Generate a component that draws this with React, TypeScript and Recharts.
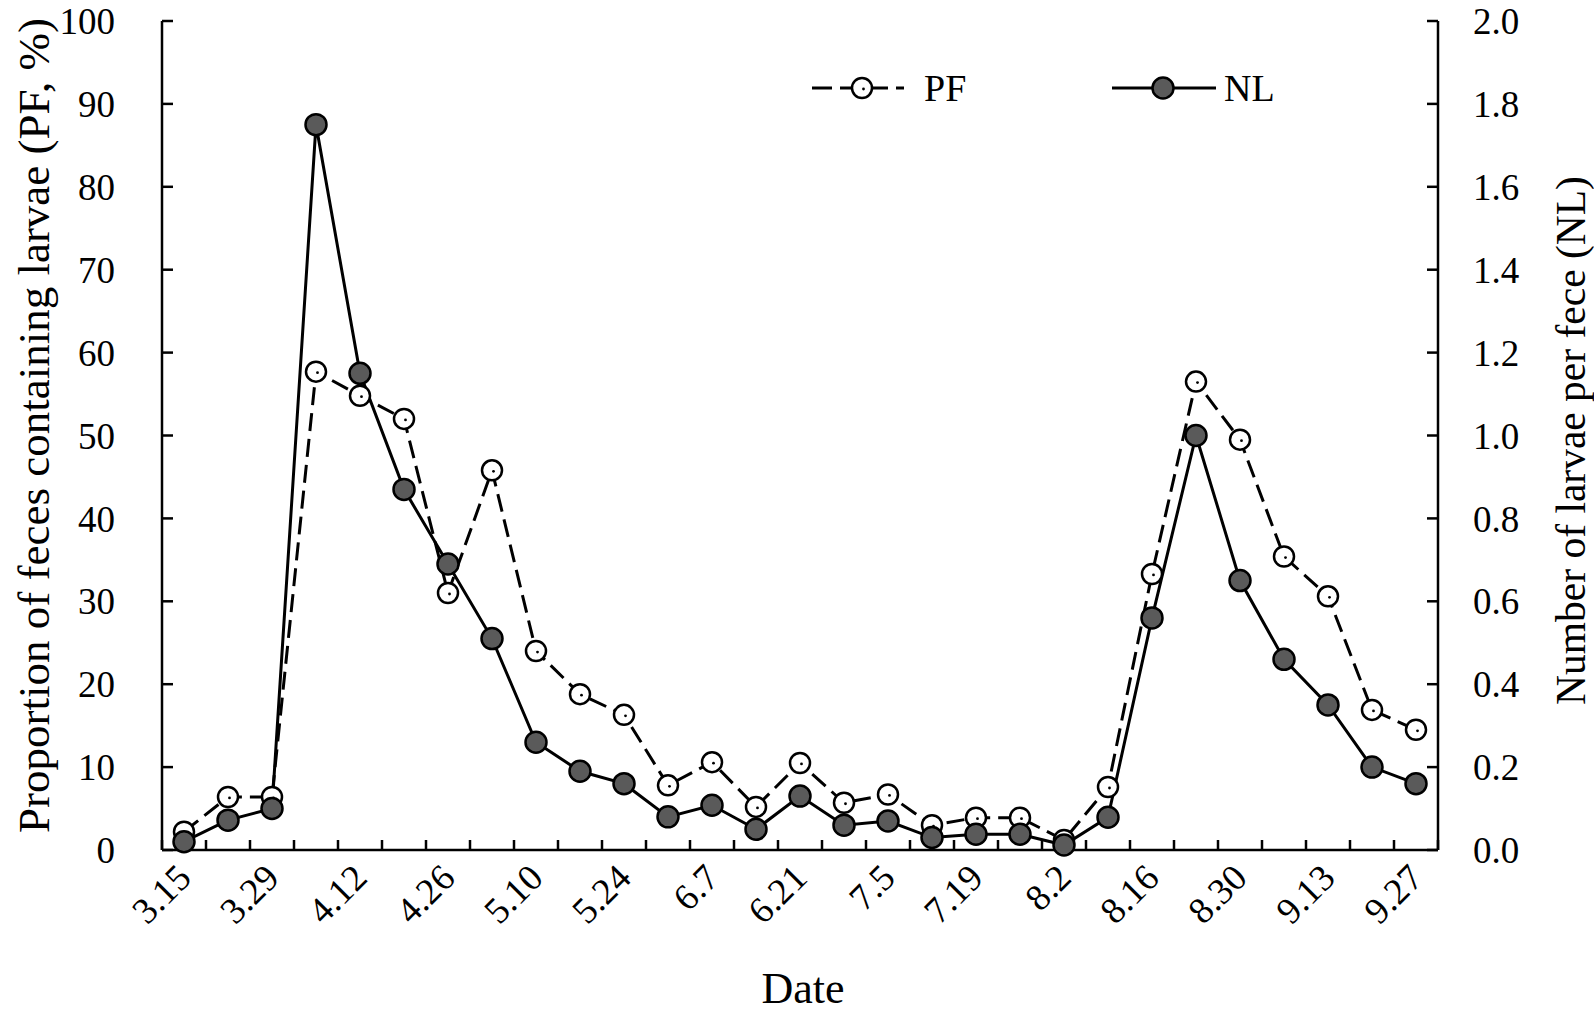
import React from 'react'
import { LineChart, Line, XAxis, YAxis, Legend } from 'recharts'

// sampling dates (weekly) and the two series
const dates = [
  '3.15', '3.22', '3.29', '4.5', '4.12', '4.19', '4.26', '5.3', '5.10', '5.17',
  '5.24', '5.31', '6.7', '6.14', '6.21', '6.28', '7.5', '7.12', '7.19', '7.26',
  '8.2', '8.9', '8.16', '8.23', '8.30', '9.6', '9.13', '9.20', '9.27',
]
const pfValues = [
  2.2, 6.4, 6.4, 57.7, 54.8, 52.0, 31.0, 45.8, 24.0, 18.8,
  16.3, 7.8, 10.6, 5.2, 10.5, 5.7, 6.7, 3.0, 3.9, 3.9,
  1.2, 7.6, 33.3, 56.5, 49.5, 35.4, 30.6, 16.9, 14.5,
]
const nlValues = [
  0.02, 0.072, 0.10, 1.75, 1.15, 0.87, 0.69, 0.51, 0.26, 0.19,
  0.16, 0.08, 0.108, 0.05, 0.13, 0.06, 0.07, 0.03, 0.038, 0.038,
  0.012, 0.079, 0.56, 1.00, 0.65, 0.46, 0.35, 0.20, 0.16,
]
const pfTicks = [0, 10, 20, 30, 40, 50, 60, 70, 80, 90, 100]
const nlTicks = [0, 0.2, 0.4, 0.6, 0.8, 1.0, 1.2, 1.4, 1.6, 1.8, 2.0]
// tick marks sit on the category boundaries (Excel style)
const boundaryTicks = dates.map((_, i) => i).concat([dates.length])

const data = dates.map((d, i) => ({ x: i + 0.5, date: d, pf: pfValues[i], nl: nlValues[i] }))

const FONT = '"Liberation Serif", "Times New Roman", serif'
const W = 1594
const H = 1020
const LEFT_W = 162
const RIGHT_W = 156
const TOP = 21
const X_H = 170
const PLOT_W = W - LEFT_W - RIGHT_W

const DateTick = (props: any) => {
  const { x, y, payload } = props
  const i = payload.value
  if (i % 2 !== 0 || i >= dates.length) return <g />
  const band = PLOT_W / dates.length
  const ax = x + band / 2 + 9
  const ay = y + 40
  return (
    <text x={ax} y={ay} transform={`rotate(-45, ${ax}, ${ay})`} textAnchor="end"
      fontSize={37} fontFamily={FONT} fill="#000">{dates[i]}</text>
  )
}

const PfDot = (p: any) => {
  const { cx, cy, index } = p
  if (cx == null || cy == null) return <g key={`pf-${index}`} />
  return (
    <g key={`pf-${index}`}>
      <circle cx={cx} cy={cy} r={10} fill="#fff" stroke="#000" strokeWidth={2.5} />
      <circle cx={cx + 1.5} cy={cy + 1} r={1.4} fill="#000" />
    </g>
  )
}

const NlDot = (p: any) => {
  const { cx, cy, index } = p
  if (cx == null || cy == null) return <g key={`nl-${index}`} />
  return <circle key={`nl-${index}`} cx={cx} cy={cy} r={10.5} fill="#5a5a5a" stroke="#000" strokeWidth={2.5} />
}

const leftTitle = (p: any) => {
  const vb = p.viewBox || { x: 0, y: TOP, width: LEFT_W, height: H - TOP - X_H }
  const cx = vb.x + 34
  const cy = vb.y + vb.height / 2 - 10
  return (
    <text x={cx} y={cy} transform={`rotate(-90, ${cx}, ${cy})`} textAnchor="middle" dominantBaseline="central"
      fontSize={45} fontFamily={FONT} fill="#000">Proportion of feces containing larvae (PF, %)</text>
  )
}

const rightTitle = (p: any) => {
  const vb = p.viewBox || { x: W - RIGHT_W, y: TOP, width: RIGHT_W, height: H - TOP - X_H }
  const cx = vb.x + 133
  const cy = vb.y + vb.height / 2 + 5
  return (
    <text x={cx} y={cy} transform={`rotate(-90, ${cx}, ${cy})`} textAnchor="middle" dominantBaseline="central"
      fontSize={41.5} fontFamily={FONT} fill="#000">Number of larvae per fece (NL)</text>
  )
}

const dateTitle = (p: any) => {
  const vb = p.viewBox || { x: LEFT_W, y: H - X_H, width: PLOT_W, height: X_H }
  return (
    <text x={vb.x + vb.width / 2 + 3} y={vb.y + 153} textAnchor="middle"
      fontSize={44} fontFamily={FONT} fill="#000">Date</text>
  )
}

const LegendBox = () => (
  <div style={{ position: 'relative', width: 500, height: 44, fontFamily: FONT, fontSize: 38, color: '#000' }}>
    <svg width={92} height={44} style={{ position: 'absolute', left: 0, top: 0 }}>
      <line x1={0} y1={22} x2={92} y2={22} stroke="#000" strokeWidth={3} strokeDasharray="20 8" />
      <circle cx={50} cy={22} r={10} fill="#fff" stroke="#000" strokeWidth={2.5} />
      <circle cx={51.5} cy={23} r={1.4} fill="#000" />
    </svg>
    <span style={{ position: 'absolute', left: 112, top: 0, lineHeight: '44px' }}>PF</span>
    <svg width={104} height={44} style={{ position: 'absolute', left: 300, top: 0 }}>
      <line x1={0} y1={22} x2={104} y2={22} stroke="#000" strokeWidth={3} />
      <circle cx={51} cy={22} r={10.5} fill="#5a5a5a" stroke="#000" strokeWidth={2.5} />
    </svg>
    <span style={{ position: 'absolute', left: 412, top: 0, lineHeight: '44px' }}>NL</span>
  </div>
)

export default function App() {
  const axisStroke = { stroke: '#000', strokeWidth: 2.5 }
  const tickFont = { fontSize: 37, fill: '#000', fontFamily: FONT }
  return (
    <div style={{ width: W, height: H, position: 'relative', background: '#fff' }}>
      <style>{'body{margin:0}'}</style>
      <LineChart width={W} height={H} data={data} margin={{ top: TOP, right: 0, bottom: 0, left: 0 }}>
        <XAxis dataKey="x" type="number" domain={[0, dates.length]} ticks={boundaryTicks} interval={0}
          height={X_H} axisLine={axisStroke} tickLine={axisStroke} tickSize={-10} tickMargin={0}
          tick={DateTick} label={dateTitle} />
        <YAxis yAxisId="pf" orientation="left" domain={[0, 100]} ticks={pfTicks} interval={0}
          width={LEFT_W} axisLine={axisStroke} tickLine={axisStroke} tickSize={-11} tickMargin={58}
          tick={tickFont} label={leftTitle} />
        <YAxis yAxisId="nl" orientation="right" domain={[0, 2]} ticks={nlTicks} interval={0}
          width={RIGHT_W} axisLine={axisStroke} tickLine={axisStroke} tickSize={-11} tickMargin={46}
          tick={tickFont} tickFormatter={(v: number) => v.toFixed(1)} label={rightTitle} />
        <Legend verticalAlign="middle" align="center" layout="horizontal"
          wrapperStyle={{ top: 66, left: 812, width: 500, height: 44 }} content={() => <LegendBox />} />
        <Line yAxisId="pf" dataKey="pf" stroke="#000" strokeWidth={3} strokeDasharray="18 8"
          dot={PfDot} activeDot={false} isAnimationActive={false} />
        <Line yAxisId="nl" dataKey="nl" stroke="#000" strokeWidth={3}
          dot={NlDot} activeDot={false} isAnimationActive={false} />
      </LineChart>
    </div>
  )
}
